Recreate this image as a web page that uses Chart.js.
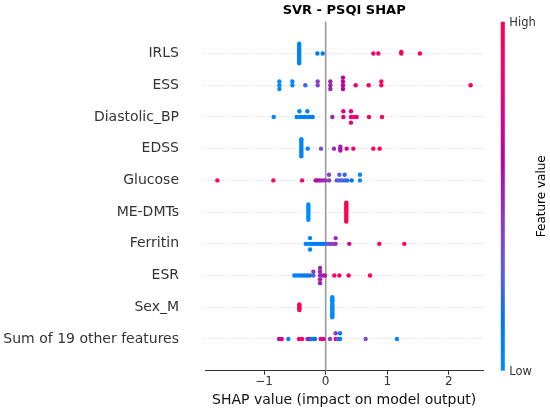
<!DOCTYPE html>
<html>
<head>
<meta charset="utf-8">
<title>SVR - PSQI SHAP</title>
<script src="https://cdn.jsdelivr.net/npm/chart.js@4.4.1/dist/chart.umd.min.js"></script>
<style>
  html, body { margin: 0; padding: 0; background: #fff; }
  #wrap { width: 550px; height: 411px; }
</style>
</head>
<body>
<div id="wrap"><canvas id="shapChart" width="550" height="411"></canvas></div>
<script>
// features from top to bottom, as in the plot
const features = ["IRLS", "ESS", "Diastolic_BP", "EDSS", "Glucose", "ME-DMTs", "Ferritin", "ESR", "Sex_M", "Sum of 19 other features"];
const xTicks = [-1, 0, 1, 2];

// SHAP values per feature (20 samples) and the matching feature value (0 = low, 1 = high)
const irlsShap = [-0.43, -0.43, -0.43, -0.43, -0.43, -0.43, -0.43, -0.43, -0.43, -0.43, -0.43, -0.43, -0.43, -0.135, -0.049, 0.774, 0.855, 1.228, 1.228, 1.53];
const irlsValue = [0.05, 0.05, 0.05, 0.05, 0.05, 0.05, 0.05, 0.05, 0.05, 0.05, 0.05, 0.05, 0.05, 0.1, 0.12, 0.92, 0.92, 1, 1, 1];

const essShap = [-0.752, -0.752, -0.752, -0.541, -0.541, -0.33, -0.13, -0.13, 0.076, 0.076, 0.076, 0.281, 0.281, 0.281, 0.281, 0.487, 0.698, 0.904, 0.904, 2.354];
const essValue = [0, 0, 0, 0.05, 0.05, 0.22, 0.4, 0.4, 0.5, 0.5, 0.5, 0.6, 0.6, 0.62, 0.6, 0.85, 0.9, 0.95, 0.95, 1];

const diastolicShap = [-0.844, -0.471, -0.427, -0.427, -0.384, -0.341, -0.298, -0.298, -0.254, -0.211, 0.108, 0.287, 0.287, 0.411, 0.411, 0.411, 0.46, 0.503, 0.703, 0.915];
const diastolicValue = [0.02, 0.05, 0.05, 0.08, 0.05, 0.1, 0.05, 0.08, 0.1, 0.12, 0.5, 0.75, 0.78, 0.8, 0.8, 0.82, 0.85, 0.85, 0.92, 0.95];

const edssShap = [-0.395, -0.395, -0.395, -0.395, -0.395, -0.395, -0.395, -0.395, -0.395, -0.395, -0.292, -0.076, 0.135, 0.238, 0.238, 0.238, 0.341, 0.449, 0.774, 0.877];
const edssValue = [0.05, 0.05, 0.05, 0.05, 0.05, 0.05, 0.05, 0.05, 0.05, 0.05, 0.08, 0.35, 0.48, 0.55, 0.55, 0.55, 0.75, 0.85, 0.95, 0.95];

const glucoseShap = [-1.759, -0.85, -0.384, -0.162, -0.13, -0.092, -0.049, -0.005, 0.054, 0.054, 0.179, 0.222, 0.222, 0.265, 0.308, 0.308, 0.352, 0.422, 0.557, 0.557];
const glucoseValue = [1, 0.95, 0.85, 0.6, 0.55, 0.55, 0.52, 0.45, 0.42, 0.4, 0.3, 0.25, 0.28, 0.22, 0.25, 0.2, 0.2, 0.15, 0.02, 0.05];

const dmtShap = [-0.281, -0.281, -0.281, -0.281, -0.281, -0.281, -0.281, -0.281, -0.281, 0.335, 0.335, 0.335, 0.335, 0.335, 0.335, 0.335, 0.335, 0.335, 0.335, 0.335];
const dmtValue = [0, 0, 0, 0, 0, 0, 0, 0, 0, 1, 1, 1, 1, 1, 1, 1, 1, 1, 1, 1];

const ferritinShap = [-0.325, -0.287, -0.254, -0.254, -0.254, -0.216, -0.179, -0.141, -0.103, -0.065, -0.027, 0.011, 0.049, 0.087, 0.124, 0.162, 0.162, 0.384, 0.871, 1.277];
const ferritinValue = [0.05, 0.08, 0.02, 0.05, 0.05, 0.1, 0.1, 0.12, 0.1, 0.15, 0.12, 0.25, 0.35, 0.38, 0.4, 0.45, 0.48, 0.72, 0.93, 1];

const esrShap = [-0.509, -0.471, -0.427, -0.384, -0.341, -0.298, -0.254, -0.2, -0.2, -0.092, -0.092, -0.092, -0.092, -0.092, -0.049, -0.011, 0.141, 0.222, 0.373, 0.72];
const esrValue = [0.02, 0.05, 0.05, 0.1, 0.1, 0.15, 0.2, 0.25, 0.45, 0.5, 0.5, 0.55, 0.5, 0.52, 0.5, 0.55, 0.9, 0.92, 0.95, 0.97];

const sexShap = [-0.427, -0.427, -0.427, -0.427, -0.427, 0.108, 0.108, 0.108, 0.108, 0.108, 0.108, 0.108, 0.108, 0.108, 0.108, 0.108, 0.108, 0.108, 0.108, 0.108];
const sexValue = [1, 1, 1, 1, 1, 0, 0, 0, 0, 0, 0, 0, 0, 0, 0, 0, 0, 0, 0, 0];

const otherShap = [-0.758, -0.714, -0.606, -0.433, -0.384, -0.298, -0.265, -0.232, -0.2, -0.173, -0.081, -0.038, 0.07, 0.162, 0.162, 0.195, 0.233, 0.233, 0.649, 1.158];
const otherValue = [0.55, 0.75, 0.05, 0.85, 0.9, 0.3, 0.6, 0.1, 0.05, 0.15, 0.9, 0.7, 0.4, 0.85, 0.45, 0.35, 0.1, 0.1, 0.35, 0.05];

const shapRows = [irlsShap, essShap, diastolicShap, edssShap, glucoseShap, dmtShap, ferritinShap, esrShap, sexShap, otherShap];
const valueRows = [irlsValue, essValue, diastolicValue, edssValue, glucoseValue, dmtValue, ferritinValue, esrValue, sexValue, otherValue];

// shap "red_blue" colormap, interpolated in LCH like the python package does
function redBlue(t) {
    const L = t < 0.5 ? 54 - 28 * t : 40 + 28 * (t - 0.5);
    const C = 70 + 20 * t;
    const h = 4.6588 + (0.35470565 + 2 * Math.PI - 4.6588) * t;
    const a = C * Math.cos(h), b = C * Math.sin(h);
    const fy = (L + 16) / 116, fx = fy + a / 500, fz = fy - b / 200;
    const finv = f => f > 6 / 29 ? f * f * f : 3 * (6 / 29) * (6 / 29) * (f - 4 / 29);
    const X = 0.95047 * finv(fx), Y = finv(fy), Z = 1.08883 * finv(fz);
    const lin = [
        3.2406 * X - 1.5372 * Y - 0.4986 * Z,
        -0.9689 * X + 1.8758 * Y + 0.0415 * Z,
        0.0557 * X - 0.2040 * Y + 1.0570 * Z
    ];
    const rgb = lin.map(c => {
        c = Math.min(1, Math.max(0, c));
        c = c <= 0.0031308 ? 12.92 * c : 1.055 * Math.pow(c, 1 / 2.4) - 0.055;
        return Math.round(255 * c);
    });
    return `rgb(${rgb[0]}, ${rgb[1]}, ${rgb[2]})`;
}

// beeswarm offsets: same binning/stacking as shap's summary plot
function swarmOffsets(vals, rowHeight = 0.4, nbins = 100) {
    const lo = Math.min(...vals), hi = Math.max(...vals);
    const quant = vals.map(v => Math.round(nbins * (v - lo) / (hi - lo + 1e-8)));
    const inds = vals.map((_, i) => i).sort((p, q) => quant[p] - quant[q] || p - q);
    const ys = new Array(vals.length).fill(0);
    let layer = 0, lastBin = -1;
    inds.forEach(i => {
        if (quant[i] !== lastBin) layer = 0;
        ys[i] = Math.ceil(layer / 2) * ((layer % 2) * 2 - 1);
        layer++;
        lastBin = quant[i];
    });
    const top = Math.max(...ys.map(y => y + 1));
    return ys.map(y => y * 0.9 * (rowHeight / top));
}

const datasets = features.map((name, i) => {
    const pos = features.length - 1 - i;
    const offs = swarmOffsets(shapRows[i]);
    return {
        label: name,
        data: shapRows[i].map((v, j) => ({ x: v, y: pos + offs[j] })),
        backgroundColor: valueRows[i].map(redBlue),
        borderWidth: 0,
        pointRadius: 2.2,
        pointHoverRadius: 2.2
    };
});

// gray vertical line at shap = 0, behind the dots
const zeroLine = {
    id: "zeroLine",
    beforeDatasetsDraw(chart) {
        const { ctx, chartArea, scales } = chart;
        const x = scales.x.getPixelForValue(0);
        ctx.save();
        ctx.strokeStyle = "#999999";
        ctx.lineWidth = 1.6;
        ctx.beginPath();
        ctx.moveTo(x, chartArea.top);
        ctx.lineTo(x, chartArea.bottom);
        ctx.stroke();
        ctx.restore();
    }
};

const colorBar = {
    id: "colorBar",
    afterDraw(chart) {
        const { ctx, chartArea } = chart;
        const x = chartArea.right + 17.5, w = 4;
        const grad = ctx.createLinearGradient(0, chartArea.bottom, 0, chartArea.top);
        for (let i = 0; i <= 20; i++) grad.addColorStop(i / 20, redBlue(i / 20));
        ctx.save();
        ctx.fillStyle = grad;
        ctx.fillRect(x, chartArea.top, w, chartArea.bottom - chartArea.top);
        ctx.fillStyle = "#333333";
        ctx.font = "11.5px 'DejaVu Sans'";
        ctx.textBaseline = "middle";
        ctx.fillText("High", x + w + 4.5, chartArea.top + 1);
        ctx.fillText("Low", x + w + 4.5, chartArea.bottom + 1);
        ctx.translate(x + 41, (chartArea.top + chartArea.bottom) / 2);
        ctx.rotate(-Math.PI / 2);
        ctx.textAlign = "center";
        ctx.fillStyle = "#000";
        ctx.font = "12px 'DejaVu Sans'";
        ctx.fillText("Feature value", 0, 0);
        ctx.restore();
    }
};

const ctx = document.getElementById("shapChart").getContext("2d");
new Chart(ctx, {
    type: "scatter",
    data: { datasets },
    plugins: [zeroLine, colorBar],
    options: {
        responsive: false,
        animation: false,
        events: [],
        layout: { padding: { left: 0, right: 66.7, top: 0, bottom: 0 } },
        scales: {
            x: {
                type: "linear",
                min: -1.96,
                max: 2.56,
                afterBuildTicks: scale => { scale.ticks = xTicks.map(v => ({ value: v })); },
                afterFit: scale => { scale.height = 40.3; },
                ticks: {
                    padding: 0,
                    color: "#333333",
                    font: { family: "DejaVu Sans", size: 12 },
                    callback: v => String(v).replace("-", "\u2212")
                },
                grid: {
                    drawOnChartArea: false,
                    color: "#333333",
                    tickColor: "#333333",
                    tickLength: 4,
                    tickWidth: 1
                },
                border: { display: true, color: "#333333", width: 1 },
                title: {
                    display: true,
                    text: "SHAP value (impact on model output)",
                    color: "#111111",
                    font: { family: "DejaVu Sans", size: 14 },
                    padding: { top: 0, bottom: 2.6 }
                }
            },
            y: {
                type: "linear",
                min: -1,
                max: 10,
                afterBuildTicks: scale => { scale.ticks = features.map((_, i) => ({ value: i })); },
                afterFit: scale => {
                    scale.width = 205;
                    scale.paddingTop = 0;
                    scale.paddingBottom = 0;
                },
                ticks: {
                    padding: 26,
                    color: "#333333",
                    font: { family: "DejaVu Sans", size: 14 },
                    callback: v => features[features.length - 1 - v]
                },
                grid: {
                    color: "#cccccc",
                    lineWidth: 0.8,
                    drawTicks: false
                },
                border: { display: false, dash: [1, 2] }
            }
        },
        plugins: {
            legend: { display: false },
            tooltip: { enabled: false },
            title: {
                display: true,
                fullSize: false,
                text: "SVR - PSQI SHAP",
                color: "#000",
                font: { family: "DejaVu Sans", size: 13, weight: "bold" },
                padding: { top: 2.4, bottom: 3.8 }
            }
        }
    }
});
</script>
</body>
</html>
